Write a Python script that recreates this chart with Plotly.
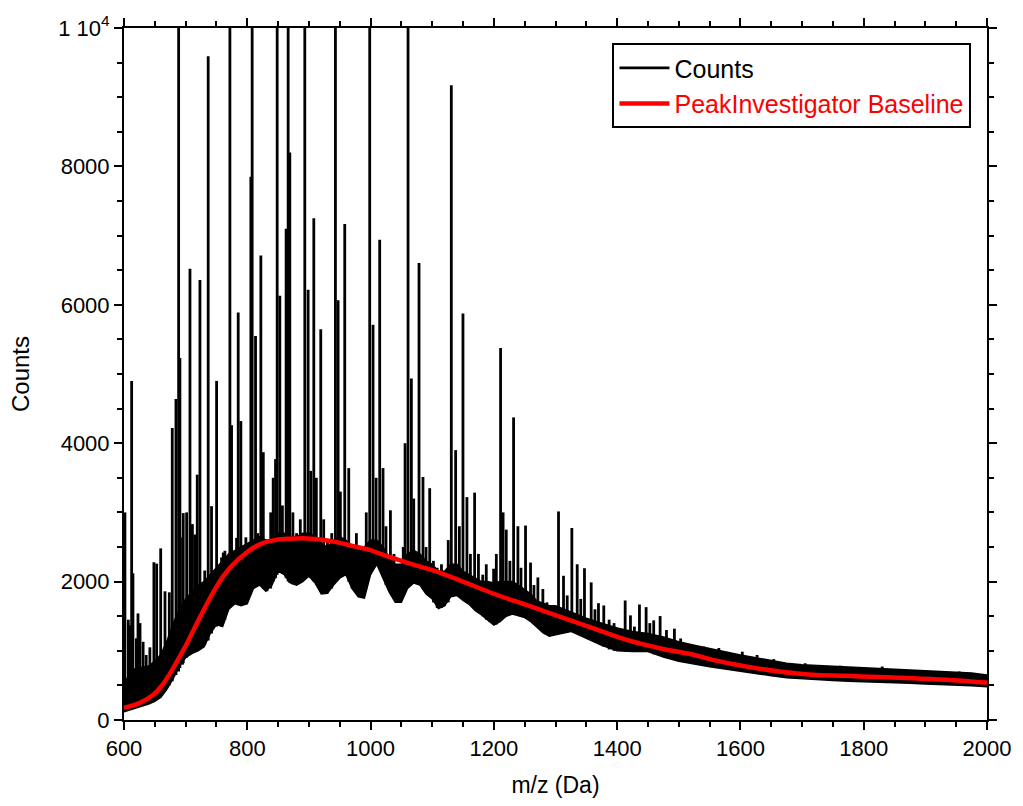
import plotly.graph_objects as go

# ---- Noise band of the spectrum (m/z, lower edge, upper edge) ----
band_mz = [600, 610, 620, 630, 640, 650, 660, 670, 680, 690, 700, 710, 720, 730, 740, 750,
           760, 770, 780, 790, 800, 810, 820, 830, 840, 850, 860, 870, 880, 890, 900, 910,
           920, 930, 940, 950, 960, 970, 980, 990, 1000, 1010, 1020, 1030, 1040, 1050, 1060,
           1070, 1080, 1090, 1100, 1110, 1120, 1130, 1140, 1150, 1160, 1170, 1180, 1190, 1200,
           1210, 1220, 1230, 1240, 1250, 1260, 1270, 1280, 1290, 1300, 1325, 1350, 1375, 1400,
           1425, 1450, 1475, 1500, 1525, 1550, 1575, 1600, 1625, 1650, 1675, 1700, 1725, 1750,
           1775, 1800, 1825, 1850, 1875, 1900, 1925, 1950, 1975, 2000]
band_low = [120, 150, 170, 200, 230, 270, 330, 450, 600, 780, 900, 960, 1000, 1060, 1250, 1380,
            1350, 1600, 1680, 1650, 1680, 1900, 1950, 1860, 1950, 2150, 2100, 1980, 1950, 2000, 2080, 1980,
            1820, 1830, 1950, 2050, 2100, 1900, 1780, 1760, 2100, 2250, 2050, 1850, 1700, 1700, 1900,
            1980, 1950, 1820, 1750, 1610, 1650, 1780, 1800, 1730, 1670, 1580, 1520, 1450, 1370,
            1420, 1500, 1530, 1500, 1480, 1420, 1340, 1260, 1210, 1230, 1280, 1180, 1080, 1000,
            990, 990, 910, 850, 810, 770, 730, 700, 670, 640, 610, 600, 580, 570,
            560, 550, 545, 535, 530, 520, 510, 500, 495, 480]
band_high = [500, 700, 750, 760, 780, 850, 950, 1150, 1400, 1600, 1750, 1850, 1950, 2000, 2100, 2200,
             2300, 2400, 2450, 2500, 2550, 2600, 2650, 2600, 2600, 2700, 2700, 2650, 2650, 2700, 2700, 2650,
             2550, 2500, 2600, 2650, 2600, 2500, 2450, 2500, 2600, 2600, 2500, 2350, 2250, 2250, 2400,
             2450, 2400, 2300, 2250, 2150, 2150, 2250, 2250, 2150, 2100, 2050, 2000, 2000, 1980,
             2000, 2000, 2000, 1950, 1880, 1820, 1720, 1680, 1650, 1650, 1560, 1470, 1400, 1330,
             1280, 1250, 1200, 1130, 1080, 1030, 980, 940, 900, 860, 820, 800, 790, 780,
             770, 760, 750, 740, 730, 720, 710, 700, 680, 650]

# ---- Individual peaks (m/z, apex counts, foot counts) ----
peak_mz = [601.5, 607, 609.7, 612.4, 614.5, 620, 622.7, 626, 631, 636, 642, 648.5, 653, 659.5,
           666.5, 673.5, 678.3, 684.3, 688.6, 690.7, 695, 696.1, 701.6, 707, 711, 715, 718.8,
           723.2, 731, 736.6, 742, 750.2, 758.3, 761, 763.7, 771.8, 774.5, 782.6, 785.3, 789.6,
           797.7, 805.8, 807.9, 813.4, 817, 822, 826, 832, 838, 842, 845.8, 848.5, 852.8, 857,
           863, 866.3, 869, 874, 880, 886, 893.3, 898.7, 903, 907.9, 912, 919.2, 924, 930, 937,
           943, 947.3, 951, 958.1, 964.6, 970, 977, 983, 993, 998.6, 1004, 1009, 1014.8, 1020.2,
           1025, 1032.2, 1038, 1046, 1053, 1056, 1060.8, 1066.2, 1070, 1078.6, 1085, 1090,
           1095.9, 1102, 1108, 1115, 1120, 1126, 1131, 1138, 1144, 1149.9, 1156.3, 1162,
           1168.8, 1175, 1182, 1187.7, 1193, 1199.6, 1204, 1210.9, 1215, 1220.1, 1226, 1232,
           1239, 1244, 1251.4, 1259.5, 1265, 1271.4, 1279.5, 1286, 1295, 1304.9, 1313, 1319,
           1326.5, 1335.2, 1341, 1347, 1357.9, 1364, 1369.7, 1378.3, 1387, 1395, 1413, 1421.6,
           1428, 1436.2, 1447, 1453, 1459.3, 1469.7, 1480, 1492.9, 1503, 1541, 1565, 1603,
           1627, 1654, 1705, 1762, 1830, 1955]
peak_top = [3000, 1450, 1370, 4900, 2120, 1180, 1540, 1400, 1130, 940, 1050, 2280, 2260, 2480,
            1860, 1845, 4220, 4640, 10400, 5230, 2640, 2990, 3000, 6520, 2830, 2680, 3545,
            6360, 2160, 9590, 3090, 4900, 2350, 2420, 2445, 10400, 4260, 2632, 5890, 4320,
            2640, 7850, 10400, 5550, 2700, 6714, 3870, 2500, 3000, 3500, 3770, 10400, 6130, 3100,
            7100, 10400, 8200, 3000, 2700, 2900, 10400, 6216, 3600, 7250, 3500, 5646, 2900, 2600, 2700,
            10400, 6067, 3300, 7166, 3640, 2500, 2700, 2400, 3000, 10400, 5711, 3500, 6940, 3640,
            2800, 3030, 2400, 2200, 2500, 4000, 10400, 4935, 3200, 6604, 3512, 2500,
            3350, 2300, 2200, 2250, 2100, 2600, 9171, 3900, 2800, 5873, 3221, 2400,
            3286, 2400, 2100, 2250, 1900, 2186, 2400, 5375, 3000, 2751, 2300, 4373,
            2800, 2200, 2810, 2275, 1950, 2060, 1893, 1700, 1650, 3014, 2084, 1800,
            2775, 2250, 1750, 2193, 1989, 1600, 1688, 1655, 1450, 1400, 1727, 1512,
            1350, 1669, 1631, 1400, 1440, 1502, 1300, 1320, 1178, 1060, 1040, 987,
            940, 880, 820, 785, 773, 701]
peak_foot = [150, 170, 170, 180, 180, 190, 200, 210, 220, 230, 250, 280, 310, 350,
             420, 500, 560, 650, 700, 750, 800, 820, 900, 950, 970, 990, 1000,
             1020, 1080, 1150, 1250, 1350, 1350, 1400, 1450, 1650, 1680, 1680, 1670, 1660,
             1670, 1850, 1900, 2000, 2020, 1950, 1900, 1860, 1900, 2000, 2050, 2100, 2150, 2150,
             2050, 2000, 1980, 1960, 1980, 2000, 2050, 2100, 2050, 2000, 1950, 1850, 1900, 1830, 1900,
             2000, 2050, 2100, 2150, 2000, 1900, 1850, 1780, 1900, 2100, 2200, 2250, 2200, 2100,
             1950, 1850, 1750, 1700, 1800, 1850, 1950, 2000, 2000, 1960, 1900, 1850,
             1800, 1700, 1620, 1620, 1650, 1700, 1800, 1800, 1800, 1750, 1700, 1670,
             1600, 1550, 1500, 1450, 1420, 1400, 1380, 1450, 1500, 1520, 1530, 1540,
             1520, 1500, 1480, 1450, 1400, 1350, 1300, 1250, 1220, 1300, 1300, 1290,
             1280, 1250, 1220, 1200, 1160, 1140, 1100, 1060, 1020, 1000, 990, 990,
             990, 1000, 1000, 980, 950, 930, 900, 880, 860, 780, 760, 720,
             700, 660, 630, 600, 570, 530]

# ---- PeakInvestigator baseline ----
base_mz = [600, 626, 648, 660, 675, 688, 702, 715, 729, 742, 756, 769, 783, 796, 810, 823, 837,
           850, 864, 891, 918, 945, 972, 999, 1015, 1050, 1075, 1104, 1150, 1201, 1255, 1309,
           1363, 1417, 1471, 1525, 1555, 1609, 1663, 1717, 1771, 1825, 1879, 1933, 2000]
base_counts = [175, 248, 367, 480, 677, 880, 1106, 1340, 1584, 1800, 2013, 2170, 2299, 2400, 2489,
               2550, 2585, 2608, 2618, 2628, 2608, 2571, 2513, 2458, 2403, 2300, 2230, 2154, 2000,
               1821, 1655, 1488, 1321, 1154, 1034, 940, 868, 773, 701, 653, 639, 620, 605, 582, 540]

x_ticks = [600, 800, 1000, 1200, 1400, 1600, 1800, 2000]
y_ticks = [0, 2000, 4000, 6000, 8000, 10000]
y_ticktext = ["0", "2000", "4000", "6000", "8000", "1 10<sup>4</sup>"]

FONT = "Liberation Sans, Arial, Helvetica, sans-serif"

fig = go.Figure()

# noise band polygon
fig.add_trace(go.Scatter(
    x=band_mz + band_mz[::-1], y=band_high + band_low[::-1],
    mode="lines", fill="toself", fillcolor="black",
    line=dict(color="black", width=1.5), showlegend=False, hoverinfo="skip",
    legendgroup="counts"))

# peaks as sticks
sx, sy = [], []
for m, t, f in zip(peak_mz, peak_top, peak_foot):
    sx += [m, m, None]
    sy += [f, t, None]
fig.add_trace(go.Scatter(x=sx, y=sy, mode="lines", name="Counts",
                         line=dict(color="black", width=2.8), legendgroup="counts"))

fig.add_trace(go.Scatter(x=base_mz, y=base_counts, mode="lines", line_shape="spline",
                         name="<span style='color:#ff0000'>PeakInvestigator Baseline</span>",
                         line=dict(color="#ff0000", width=4.5)))

axis_common = dict(showline=True, linecolor="black", linewidth=2, mirror="allticks",
                   ticks="outside", ticklen=8, tickwidth=1.8, tickcolor="black",
                   showgrid=False, zeroline=False,
                   tickfont=dict(family=FONT, size=22, color="black"))

fig.update_xaxes(range=[600, 2000], tickvals=x_ticks,
                 title=dict(text="m/z (Da)", font=dict(family=FONT, size=23, color="black"), standoff=16),
                 minor=dict(dtick=50, tick0=600, ticks="outside", ticklen=5, tickwidth=1.5, tickcolor="black"),
                 **axis_common)
fig.update_yaxes(range=[0, 10000], tickvals=y_ticks, ticktext=y_ticktext,
                 title=dict(text="Counts", font=dict(family=FONT, size=24, color="black"), standoff=22),
                 minor=dict(dtick=500, tick0=0, ticks="outside", ticklen=5, tickwidth=1.5, tickcolor="black"),
                 **axis_common)

fig.update_layout(
    width=1023, height=806,
    margin=dict(l=124, r=35, t=25, b=82),
    paper_bgcolor="white", plot_bgcolor="white",
    font=dict(family=FONT, size=22, color="black"),
    showlegend=True,
    legend=dict(x=0.982, y=0.978, xanchor="right", yanchor="top",
                bgcolor="white", bordercolor="black", borderwidth=2,
                font=dict(family=FONT, size=25, color="black"),
                tracegroupgap=0, itemwidth=50),
)

fig.write_html("out.html")
